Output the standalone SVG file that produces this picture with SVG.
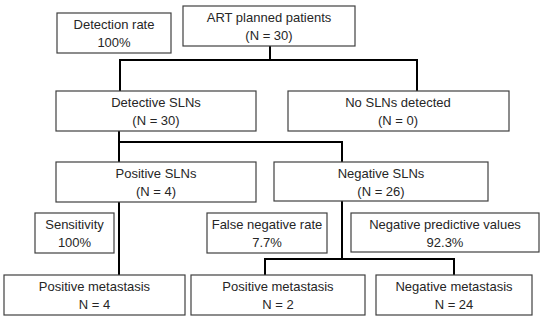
<svg xmlns="http://www.w3.org/2000/svg" width="550" height="324" viewBox="0 0 550 324">
<style>
.b{fill:#fff;stroke:#404040;stroke-width:1.2}
.t{font-family:"Liberation Sans",Arial,sans-serif;font-size:13px;fill:#262626;text-anchor:middle}
.c{fill:none;stroke:#000;stroke-width:2}
</style>
<rect width="550" height="324" fill="#fff"/>
<g id="connectors">
<polyline class="c" points="270,46 270,60 120,60 120,91"/>
<polyline class="c" points="270,60 417,60 417,91"/>
<polyline class="c" points="119,131 119,162"/>
<polyline class="c" points="119,142 342,142 342,162"/>
<polyline class="c" points="119,202 119,275"/>
<polyline class="c" points="342,201 342,259"/>
<polyline class="c" points="265,275 265,259 454,259 454,275"/>
</g>
<g id="detection-rate"><rect class="b" x="57" y="13" width="114" height="40"/><text class="t" x="114" y="29">Detection rate</text><text class="t" x="114" y="47">100%</text></g>
<g id="art"><rect class="b" x="183" y="6" width="172" height="40"/><text class="t" x="269" y="22">ART planned patients</text><text class="t" x="269" y="40">(N = 30)</text></g>
<g id="detective"><rect class="b" x="56" y="91" width="200" height="40"/><text class="t" x="156" y="107">Detective SLNs</text><text class="t" x="156" y="125">(N = 30)</text></g>
<g id="no-sln"><rect class="b" x="288" y="91" width="221" height="40"/><text class="t" x="398" y="107">No SLNs detected</text><text class="t" x="398" y="125">(N = 0)</text></g>
<g id="pos-sln"><rect class="b" x="56" y="162" width="200" height="40"/><text class="t" x="156" y="178">Positive SLNs</text><text class="t" x="156" y="196">(N = 4)</text></g>
<g id="neg-sln"><rect class="b" x="274" y="162" width="214" height="39"/><text class="t" x="381" y="178">Negative SLNs</text><text class="t" x="381" y="196">(N = 26)</text></g>
<g id="sensitivity"><rect class="b" x="35" y="213" width="79" height="40"/><text class="t" x="74.5" y="229">Sensitivity</text><text class="t" x="74.5" y="247">100%</text></g>
<g id="fnr"><rect class="b" x="207" y="213" width="120" height="40"/><text class="t" x="267" y="229">False negative rate</text><text class="t" x="267" y="247">7.7%</text></g>
<g id="npv"><rect class="b" x="351" y="213" width="188" height="39"/><text class="t" x="445" y="229">Negative predictive values</text><text class="t" x="445" y="247">92.3%</text></g>
<g id="pos-met-1"><rect class="b" x="4" y="275" width="181" height="40"/><text class="t" x="94.5" y="291">Positive metastasis</text><text class="t" x="94.5" y="309">N = 4</text></g>
<g id="pos-met-2"><rect class="b" x="191" y="275" width="174" height="40"/><text class="t" x="278" y="291">Positive metastasis</text><text class="t" x="278" y="309">N = 2</text></g>
<g id="neg-met"><rect class="b" x="376" y="275" width="156" height="40"/><text class="t" x="454" y="291">Negative metastasis</text><text class="t" x="454" y="309">N = 24</text></g>
</svg>
